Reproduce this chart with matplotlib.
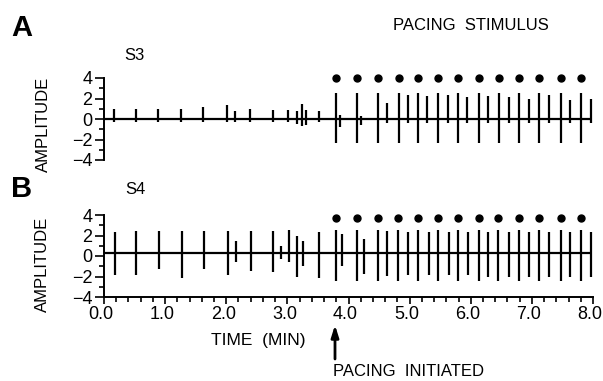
# coding=utf-8
import numpy as np
from matplotlib import pyplot as plt
from matplotlib.ticker import MultipleLocator
import matplotlib.transforms as mtransforms

plt.rcParams['font.family'] = ['Liberation Sans', 'DejaVu Sans']

# ---- S3 (panel A) ----
# spontaneous beats before pacing: time (min), peak, trough
a_beat_t = [0.16, 0.52, 0.88, 1.26, 1.62, 2.02, 2.15, 2.39, 2.76, 3.01, 3.16, 3.24, 3.30, 3.51]
a_beat_top = [1.0, 1.0, 1.0, 1.0, 1.2, 1.4, 0.8, 1.0, 0.9, 0.9, 0.8, 1.5, 0.9, 0.8]
a_beat_bot = [-0.3, -0.3, -0.3, -0.3, -0.3, -0.3, -0.3, -0.3, -0.3, -0.3, -0.5, -0.7, -0.6, -0.3]
# pacing stimulus artefacts
a_stim_t = [3.80, 4.14, 4.48, 4.82, 5.13, 5.47, 5.79, 6.14, 6.46, 6.79, 7.12, 7.47, 7.81]
a_stim_top = [2.5, 2.5, 2.5, 2.5, 2.5, 2.5, 2.5, 2.5, 2.5, 2.5, 2.5, 2.5, 2.5]
a_stim_bot = [-2.35, -2.35, -2.35, -2.35, -2.35, -2.35, -2.35, -2.35, -2.35, -2.35, -2.35, -2.35, -2.35]
# captured responses
a_resp_t = [3.86, 4.20, 4.63, 4.97, 5.29, 5.62, 5.94, 6.28, 6.62, 6.95, 7.28, 7.62, 7.97]
a_resp_top = [0.4, 0.3, 1.6, 2.3, 2.2, 2.3, 2.1, 2.2, 2.1, 2.0, 2.3, 1.9, 2.0]
a_resp_bot = [-0.8, -0.6, -0.4, -0.4, -0.4, -0.4, -0.4, -0.4, -0.4, -0.4, -0.4, -0.4, -0.4]
a_base = 0.0
a_dot_y = 4.0

# ---- S4 (panel B) ----
b_beat_t = [0.18, 0.53, 0.90, 1.28, 1.64, 2.03, 2.16, 2.40, 2.77, 2.90, 3.02, 3.15, 3.26, 3.51]
b_beat_top = [2.3, 2.4, 2.4, 2.4, 2.4, 2.4, 1.5, 2.4, 2.4, 1.0, 2.5, 2.0, 1.5, 2.3]
b_beat_bot = [-1.9, -1.9, -1.3, -2.1, -1.3, -1.9, -0.6, -1.5, -1.6, -0.3, -0.6, -2.0, -1.0, -2.1]
b_stim_t = [3.80, 4.14, 4.48, 4.81, 5.13, 5.47, 5.79, 6.14, 6.45, 6.79, 7.12, 7.47, 7.80]
b_stim_top = [2.5, 2.5, 2.5, 2.5, 2.5, 2.5, 2.5, 2.5, 2.5, 2.5, 2.5, 2.5, 2.5]
b_stim_bot = [-2.45, -2.45, -2.45, -2.45, -2.45, -2.45, -2.45, -2.45, -2.45, -2.45, -2.45, -2.45, -2.45]
b_resp_t = [3.89, 4.26, 4.63, 4.98, 5.31, 5.64, 5.95, 6.29, 6.62, 6.96, 7.28, 7.63, 7.97]
b_resp_top = [2.1, 1.7, 2.4, 2.3, 2.3, 2.3, 2.3, 2.3, 2.3, 2.3, 2.3, 2.3, 2.3]
b_resp_bot = [-1.0, -1.75, -1.95, -1.9, -1.9, -1.9, -1.9, -2.0, -2.0, -2.0, -2.0, -2.0, -2.0]
b_base = 0.25
b_dot_y = 3.7

x_ticks = [0, 1, 2, 3, 4, 5, 6, 7, 8]
x_labels = ['0.0', '1.0', '2.0', '3.0', '4.0', '5.0', '6.0', '7.0', '8.0']
y_ticks = [-4, -2, 0, 2, 4]
y_labels = ['\u22124', '\u22122', '0', '2', '4']

W, H = 603., 381.
LW = 1.6


def trace(ax, base, groups, dot_t, dot_y):
    ax.hlines(base, 0, 7.99, color='k', lw=LW)
    for t, top, bot in groups:
        ax.vlines(t, bot, top, color='k', lw=LW)
    ax.plot(dot_t, [dot_y] * len(dot_t), 'o', color='k', ms=5, clip_on=False)


def style(ax, show_x):
    ax.set_xlim(0, 8)
    ax.set_ylim(-4, 4)
    for s in ['top', 'right']:
        ax.spines[s].set_visible(False)
    ax.spines['left'].set_linewidth(1.4)
    ax.spines['bottom'].set_linewidth(1.4)
    ax.set_yticks(y_ticks)
    ax.set_yticklabels(y_labels)
    ax.yaxis.set_minor_locator(MultipleLocator(1))
    ax.tick_params(axis='y', which='major', direction='out', length=6.5, width=1.2, pad=2, labelsize=13)
    ax.tick_params(axis='y', which='minor', direction='out', length=3.5, width=1.2)
    if show_x:
        ax.set_xticks(x_ticks)
        ax.set_xticklabels(x_labels)
        ax.xaxis.set_minor_locator(MultipleLocator(0.2))
        ax.tick_params(axis='x', which='major', direction='out', length=5, width=1.2, pad=1.5, labelsize=13)
        ax.tick_params(axis='x', which='minor', direction='out', length=3.5, width=1.2)
        # labels sit a little left of their ticks in the original
        shift = mtransforms.ScaledTranslation(-3 / 100., 0, fig.dpi_scale_trans)
        for lab in ax.get_xticklabels():
            lab.set_transform(lab.get_transform() + shift)
    else:
        ax.spines['bottom'].set_visible(False)
        ax.set_xticks([])


fig = plt.figure(figsize=(W / 100, H / 100), dpi=100)
ax_a = fig.add_axes([104 / W, (H - 160) / H, 489 / W, 82 / H])
ax_b = fig.add_axes([104 / W, (H - 297) / H, 489 / W, 82 / H])

trace(ax_a, a_base,
      list(zip(a_beat_t, a_beat_top, a_beat_bot)) + list(zip(a_stim_t, a_stim_top, a_stim_bot))
      + list(zip(a_resp_t, a_resp_top, a_resp_bot)),
      a_stim_t, a_dot_y)
trace(ax_b, b_base,
      list(zip(b_beat_t, b_beat_top, b_beat_bot)) + list(zip(b_stim_t, b_stim_top, b_stim_bot))
      + list(zip(b_resp_t, b_resp_top, b_resp_bot)),
      b_stim_t, b_dot_y)
style(ax_a, False)
style(ax_b, True)


def ftext(x, y, s, **kw):
    # x, y in pixels from top-left of the picture
    fig.text(x / W, (H - y) / H, s, **kw)


ftext(22, 28, 'A', fontsize=21, fontweight='bold', ha='center', va='center')
ftext(22, 189, 'B', fontsize=21, fontweight='bold', ha='center', va='center')
ftext(134, 56, 'S3', fontsize=12, ha='center', va='center')
ftext(135, 190, 'S4', fontsize=12, ha='center', va='center')
ftext(471, 25, 'PACING  STIMULUS', fontsize=12, ha='center', va='center')
ftext(43, 124, 'AMPLITUDE', fontsize=12, rotation=90, ha='center', va='center')
ftext(42, 264, 'AMPLITUDE', fontsize=12, rotation=90, ha='center', va='center')
ftext(258, 340, 'TIME  (MIN)', fontsize=12.5, ha='center', va='center')
ftext(333, 372, 'PACING  INITIATED', fontsize=12, ha='left', va='center')

# arrow marking pacing onset
fig.add_artist(plt.Annotation('', xy=(335 / W, (H - 325) / H), xytext=(335 / W, (H - 359) / H),
                              xycoords='figure fraction', textcoords='figure fraction',
                              arrowprops=dict(arrowstyle='-|>,head_length=0.7,head_width=0.22',
                                              color='k', lw=2, shrinkA=0, shrinkB=0)))

fig.savefig('out.png', dpi=100)
